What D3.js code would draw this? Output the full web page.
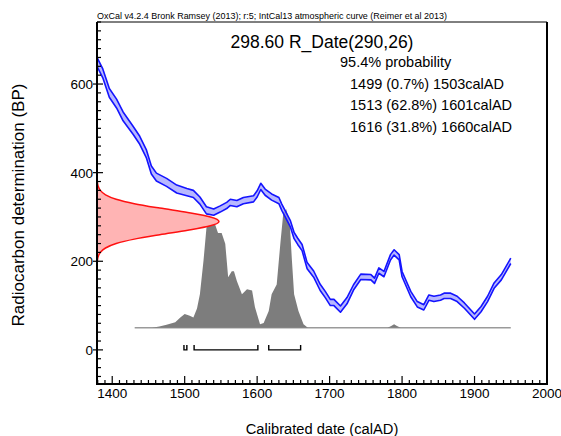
<!DOCTYPE html>
<html>
<head>
<meta charset="utf-8">
<script src="https://cdn.jsdelivr.net/npm/d3@7"></script>
<style>
  body { margin: 0; background: #fff; }
  svg text { font-family: "Liberation Sans", Arial, sans-serif; fill: #000; }
</style>
</head>
<body>
<svg id="chart" width="561" height="436"></svg>
<script>
'use strict';

// calibration curve (IntCal13)
var curveYears = [1379, 1387, 1396, 1406, 1415, 1429, 1438, 1447, 1454, 1461, 1475, 1489, 1503, 1512,
                  1521, 1530, 1540, 1549, 1558, 1563, 1572, 1581, 1595, 1600, 1605, 1611, 1620, 1630,
                  1634, 1641, 1646, 1651, 1656, 1662, 1669, 1678, 1687, 1694, 1701, 1706, 1715, 1724,
                  1733, 1743, 1757, 1762, 1768, 1775, 1784, 1789, 1796, 1800, 1812, 1821, 1830, 1837,
                  1844, 1853, 1858, 1867, 1876, 1886, 1900, 1909, 1918, 1927, 1937, 1950]
  , curveBP = [650, 624, 580, 556, 527, 495, 473, 443, 406, 390, 378, 363, 356, 352,
               337, 315, 311, 318, 326, 333, 330, 337, 341, 352, 369, 356, 345, 337,
               322, 300, 284, 258, 245, 231, 190, 171, 141, 125, 107, 107, 92, 111,
               141, 165, 164, 156, 179, 171, 209, 220, 209, 171, 126, 103, 96, 118,
               115, 118, 122, 122, 115, 100, 75, 92, 115, 145, 164, 201]
  , curveSigma = [10, 10, 10, 10, 10, 9, 9, 9, 9, 9, 9, 9, 8, 8,
                  8, 8, 7, 7, 7, 7, 7, 7, 7, 7, 7, 7, 7, 7,
                  7, 7, 7, 7, 7, 7, 7, 7, 7, 7, 7, 7, 7, 7,
                  6, 6, 6, 6, 6, 6, 6, 6, 6, 6, 6, 6, 6, 6,
                  6, 6, 6, 6, 6, 6, 6, 6, 6, 6, 6, 6];

// R_Date(290,26) likelihood, relative height by BP
var dateBP   = [200, 210, 220, 230, 240, 250, 260, 270, 280, 290, 300, 310, 320, 330, 340, 350, 360, 370, 380]
  , dateProb = [0.003, 0.009, 0.027, 0.070, 0.157, 0.306, 0.514, 0.744, 0.929, 1, 0.929, 0.744, 0.514, 0.306, 0.157, 0.070, 0.027, 0.009, 0.003];

// calibrated distribution, relative probability
var postYears = [1455, 1465, 1475, 1481, 1487, 1494, 1500, 1507, 1512, 1517, 1521, 1526, 1530, 1534,
                 1539, 1542, 1546, 1551, 1556, 1560, 1565, 1568, 1572, 1579, 1586, 1593, 1597, 1604,
                 1609, 1616, 1620, 1627, 1632, 1636, 1640, 1645, 1648, 1651, 1657, 1664, 1670,
                 1780, 1785, 1789, 1793, 1798]
  , postProb = [0, 1, 2.5, 3.5, 4.5, 8.5, 11.5, 10, 8.5, 16, 28, 56, 83, 92,
                91, 86, 79, 79, 70, 42, 47, 47, 39, 28, 32, 31, 17, 3,
                4, 14, 28, 36, 70, 95, 99, 87, 56, 28, 14, 3, 0,
                0, 1.5, 3, 1.5, 0];

// 95.4% ranges
var ranges = [[1499, 1503], [1513, 1601], [1616, 1660]];

var xTicks = [1400, 1500, 1600, 1700, 1800, 1900, 2000]
  , yTicks = [0, 200, 400, 600];

var header = 'OxCal v4.2.4 Bronk Ramsey (2013); r:5; IntCal13 atmospheric curve (Reimer et al 2013)'
  , title = '298.60 R_Date(290,26)'
  , legend = ['95.4% probability', '1499 (0.7%) 1503calAD', '1513 (62.8%) 1601calAD', '1616 (31.8%) 1660calAD'];


var svg = d3.select('#chart')
  , pLeft = 97, pRight = 547, pTop = 22, pBottom = 384;

var x = d3.scaleLinear().domain([1379, 2000]).range([pLeft, pRight])
  , y = d3.scaleLinear().domain([-77, 740]).range([pBottom, pTop])
  , w = d3.scaleLinear().domain([0, 1]).range([0, 122])     // width of the red likelihood
  , h = d3.scaleLinear().domain([0, 100]).range([0, 120]);  // height of the grey posterior

var base = y(50);

svg.append('clipPath').attr('id', 'plot')
  .append('rect').attr('x', pLeft).attr('y', pTop).attr('width', pRight - pLeft).attr('height', pBottom - pTop);

var g = svg.append('g').attr('clip-path', 'url(#plot)');

// posterior baseline and fill
g.append('line')
  .attr('x1', x(1431)).attr('x2', x(1950))
  .attr('y1', base).attr('y2', base)
  .attr('stroke', '#9a9a9a').attr('stroke-width', 1.5);

var post = postYears.map(function(d, i){ return [d, postProb[i]]; });
g.append('path')
  .datum(post)
  .attr('d', d3.area()
    .x(function(d){ return x(d[0]); })
    .y0(base)
    .y1(function(d){ return base - h(d[1]); }))
  .attr('fill', '#7d7d7d');

// red likelihood on the y axis
var like = dateBP.map(function(d, i){ return [d, dateProb[i]]; });
g.append('path')
  .datum(like)
  .attr('d', d3.area()
    .y(function(d){ return y(d[0]); })
    .x0(pLeft)
    .x1(function(d){ return pLeft + w(d[1]); })
    .curve(d3.curveMonotoneY))
  .attr('fill', '#ffb4b4');
g.append('path')
  .datum(like)
  .attr('d', d3.line()
    .y(function(d){ return y(d[0]); })
    .x(function(d){ return pLeft + w(d[1]); })
    .curve(d3.curveMonotoneY))
  .attr('fill', 'none').attr('stroke', '#ff1010').attr('stroke-width', 1.5);

// calibration band
var cal = curveYears.map(function(d, i){ return [d, curveBP[i], curveSigma[i]]; });
g.append('path')
  .datum(cal)
  .attr('d', d3.area()
    .x(function(d){ return x(d[0]); })
    .y0(function(d){ return y(d[1] - d[2]); })
    .y1(function(d){ return y(d[1] + d[2]); }))
  .attr('fill', '#9a9aff').attr('fill-opacity', 0.7);

[1, -1].forEach(function(s){
  g.append('path')
    .datum(cal)
    .attr('d', d3.line()
      .x(function(d){ return x(d[0]); })
      .y(function(d){ return y(d[1] + s * d[2]); }))
    .attr('fill', 'none').attr('stroke', '#1414ff').attr('stroke-width', 1.6)
    .attr('stroke-linejoin', 'round');
});

// range brackets
var by = y(0);
svg.selectAll('path.range')
  .data(ranges)
  .enter().append('path')
  .attr('class', 'range')
  .attr('d', function(d){
    return 'M' + x(d[0]) + ',' + (by - 5) + 'V' + by + 'H' + x(d[1]) + 'V' + (by - 5);
  })
  .attr('fill', 'none').attr('stroke', '#000').attr('stroke-width', 1.4);

// ticks
var xMinor = d3.range(1380, 2001, 10)
  , yMinor = d3.range(-60, 741, 20);

svg.selectAll('line.xt')
  .data(xMinor)
  .enter().append('line')
  .attr('class', 'xt')
  .attr('x1', x).attr('x2', x)
  .attr('y1', pBottom)
  .attr('y2', function(d){ return d % 100 ? pBottom - 4 : pBottom - 8; })
  .attr('stroke', '#000').attr('stroke-width', 1.2);

svg.selectAll('line.yt')
  .data(yMinor)
  .enter().append('line')
  .attr('class', 'yt')
  .attr('y1', y).attr('y2', y)
  .attr('x1', function(d){ return d % 200 ? pLeft : pLeft - 4; })
  .attr('x2', function(d){ return d % 200 ? pLeft + 4 : pLeft + 6; })
  .attr('stroke', '#000').attr('stroke-width', 1.2);

// frame
svg.append('line').attr('x1', pLeft).attr('x2', pRight).attr('y1', pTop).attr('y2', pTop)
  .attr('stroke', '#000').attr('stroke-width', 1);
svg.append('line').attr('x1', pLeft).attr('x2', pLeft).attr('y1', pTop).attr('y2', pBottom + 1)
  .attr('stroke', '#000').attr('stroke-width', 2);
svg.append('line').attr('x1', pRight).attr('x2', pRight).attr('y1', pTop).attr('y2', pBottom + 1)
  .attr('stroke', '#000').attr('stroke-width', 2);
svg.append('line').attr('x1', pLeft - 1).attr('x2', pRight + 1).attr('y1', pBottom).attr('y2', pBottom)
  .attr('stroke', '#000').attr('stroke-width', 2);

// tick labels
svg.selectAll('text.xl')
  .data(xTicks)
  .enter().append('text')
  .attr('class', 'xl')
  .attr('x', x).attr('y', 398)
  .attr('text-anchor', 'middle').style('font-size', '13.5px')
  .text(String);

svg.selectAll('text.yl')
  .data(yTicks)
  .enter().append('text')
  .attr('class', 'yl')
  .attr('x', 93).attr('y', function(d){ return y(d) + 5; })
  .attr('text-anchor', 'end').style('font-size', '13.5px')
  .text(String);

// axis titles
svg.append('text')
  .attr('x', 322).attr('y', 434)
  .attr('text-anchor', 'middle').style('font-size', '14.7px')
  .text('Calibrated date (calAD)');

svg.append('text')
  .attr('transform', 'translate(24,205) rotate(-90)')
  .attr('text-anchor', 'middle').style('font-size', '17px')
  .text('Radiocarbon determination (BP)');

// header and legend
svg.append('text')
  .attr('x', 97).attr('y', 19)
  .attr('textLength', 350).attr('lengthAdjust', 'spacingAndGlyphs')
  .style('font-size', '9.5px')
  .text(header);

svg.append('text')
  .attr('x', 322).attr('y', 48)
  .attr('text-anchor', 'middle').style('font-size', '17.5px')
  .text(title);

svg.selectAll('text.lg')
  .data(legend)
  .enter().append('text')
  .attr('class', 'lg')
  .attr('x', function(d, i){ return i ? 350 : 340; })
  .attr('y', function(d, i){ return 67 + i * 21.5; })
  .style('font-size', '14.5px')
  .text(String);
</script>
</body>
</html>
